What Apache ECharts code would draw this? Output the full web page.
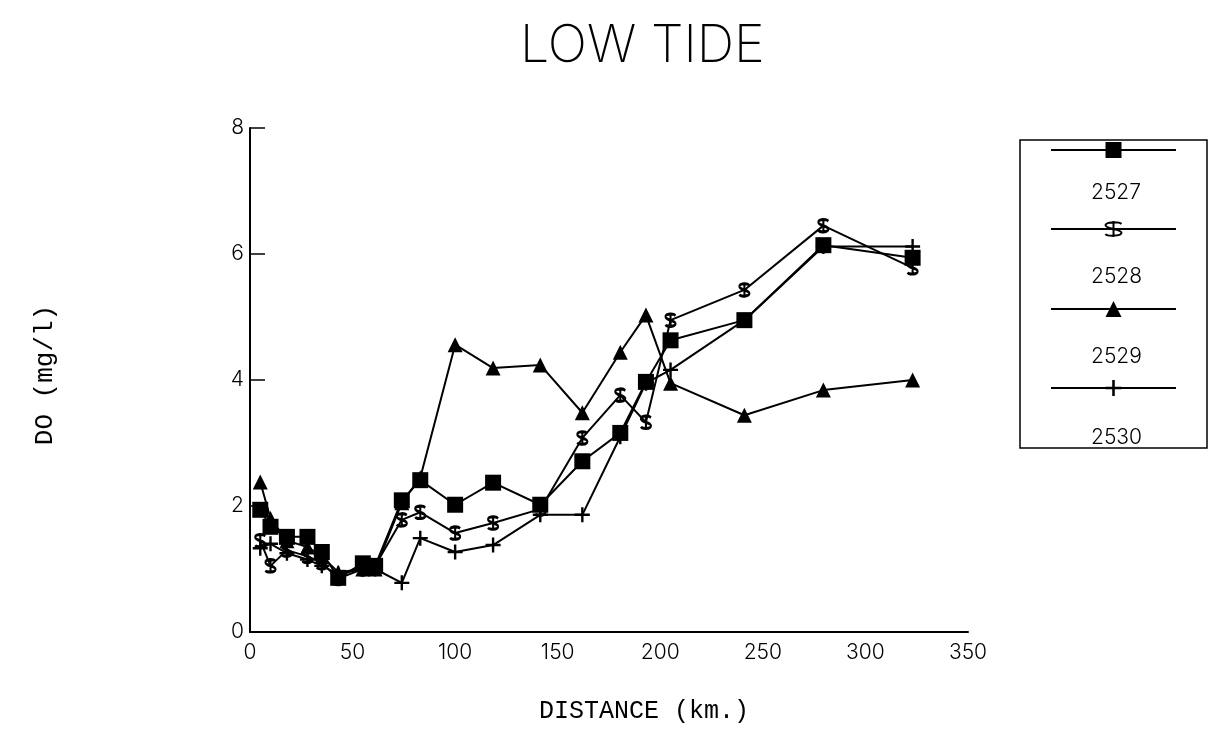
<!DOCTYPE html>
<html>
<head>
<meta charset="utf-8">
<title>LOW TIDE</title>
<script src="https://cdn.jsdelivr.net/npm/echarts@6/dist/echarts.min.js"></script>
<style>
  html, body { margin: 0; padding: 0; background: #fff; }
  #chart { width: 1211px; height: 753px; }
</style>
</head>
<body>
<div id="chart"></div>
<script>
// Station distances (km) shared by all runs
const distance = [5, 10, 18, 28, 35, 43, 55, 61, 74, 83, 100, 118.5, 141.5, 162, 180.5, 193, 205, 241, 279.5, 323];

// DO (mg/l) per run
const run2527 = [1.94, 1.67, 1.51, 1.51, 1.27, 0.86, 1.09, 1.05, 2.09, 2.41, 2.02, 2.37, 2.02, 2.71, 3.16, 3.97, 4.63, 4.95, 6.14, 5.94];
const run2528 = [1.45, 1.05, 1.30, 1.20, 1.10, 0.85, 1.00, 1.05, 1.78, 1.90, 1.57, 1.73, 1.95, 3.08, 3.76, 3.33, 4.95, 5.43, 6.45, 5.78];
const run2529 = [2.38, 1.80, 1.45, 1.35, 1.20, 0.95, 1.00, 1.00, 2.05, 2.45, 4.56, 4.19, 4.24, 3.48, 4.44, 5.03, 3.95, 3.44, 3.84, 4.00];
const run2530 = [1.33, 1.40, 1.25, 1.15, 1.05, 0.92, 1.00, 1.00, 0.78, 1.49, 1.27, 1.38, 1.86, 1.86, 3.10, 3.95, 4.16, 4.95, 6.12, 6.12];

const runNames = ['2527', '2528', '2529', '2530'];
const xTicks = [0, 50, 100, 150, 200, 250, 300, 350];
const yTicks = [0, 2, 4, 6, 8];

const thinFont = 'Inter, "Open Sans", sans-serif';
const monoFont = '"Liberation Mono"';

// marker shapes
const dollarPath = 'path://M8,2.5C7,0.5 2,0.5 2,3.5C2,6.5 8,6.5 8,9.5C8,12.5 2.5,12.5 2,10.5M5,0V13';
const plusPath = 'path://M4.2,0H5.8V4.2H10V5.8H5.8V10H4.2V5.8H0V4.2H4.2Z';

function pairs(values) {
    return distance.map((d, i) => [d, values[i]]);
}

function makeSeries(name, values, symbol, size, itemStyle) {
    return {
        name: name,
        type: 'line',
        data: pairs(values),
        symbol: symbol,
        symbolSize: size,
        showAllSymbol: true,
        lineStyle: { color: '#000', width: 2 },
        itemStyle: itemStyle,
        emphasis: { disabled: true },
        z: 3
    };
}

const chart = echarts.init(document.getElementById('chart'));

chart.setOption({
    animation: false,
    backgroundColor: '#fff',
    title: {
        text: 'LOW TIDE',
        left: 515,
        top: 15,
        textStyle: { fontFamily: thinFont, fontSize: 52, fontWeight: 200, color: '#000' }
    },
    grid: { left: 250, right: 243, top: 128, bottom: 121 },
    legend: {
        orient: 'vertical',
        right: 4,
        top: 140,
        padding: [0, 30, 52, 30],
        itemWidth: 125,
        itemHeight: 20,
        itemGap: 61,
        borderColor: '#000',
        borderWidth: 1.5,
        data: runNames,
        formatter: () => '',
        textStyle: { fontSize: 1 }
    },
    graphic: runNames.map((name, i) => ({
        type: 'text',
        left: 1117 - 26,
        top: [182, 266, 346, 427][i],
        style: { text: name, fontFamily: thinFont, fontSize: 21, fontWeight: 300, fill: '#000' }
    })),
    xAxis: {
        type: 'value',
        min: xTicks[0],
        max: xTicks[xTicks.length - 1],
        interval: 50,
        name: 'DISTANCE (km.)',
        nameLocation: 'middle',
        nameGap: 67,
        nameTextStyle: { fontFamily: monoFont, fontSize: 25, color: '#000', padding: [0, 0, 0, 70] },
        axisLine: { lineStyle: { color: '#000', width: 2 } },
        axisTick: { show: false },
        splitLine: { show: false },
        axisLabel: { fontFamily: thinFont, fontSize: 21, fontWeight: 300, color: '#000', margin: 10 }
    },
    yAxis: {
        type: 'value',
        min: yTicks[0],
        max: yTicks[yTicks.length - 1],
        interval: 2,
        name: 'DO (mg/l)',
        nameLocation: 'middle',
        nameRotate: 90,
        nameGap: 192,
        nameTextStyle: { fontFamily: monoFont, fontSize: 26, color: '#000', padding: [0, 0, 0, 10] },
        axisLine: { lineStyle: { color: '#000', width: 2 } },
        axisTick: { inside: true, length: 15, lineStyle: { color: '#000', width: 1.5 } },
        splitLine: { show: false },
        axisLabel: { fontFamily: thinFont, fontSize: 21, fontWeight: 300, color: '#000', margin: 6 }
    },
    series: [
        makeSeries('2527', run2527, 'rect', 16, { color: '#000' }),
        makeSeries('2528', run2528, dollarPath, [10, 15], { color: 'rgba(0,0,0,0)', borderColor: '#000', borderWidth: 2.5 }),
        makeSeries('2529', run2529, 'triangle', 15, { color: '#000' }),
        makeSeries('2530', run2530, plusPath, 15, { color: '#000' })
    ]
});
</script>
</body>
</html>
